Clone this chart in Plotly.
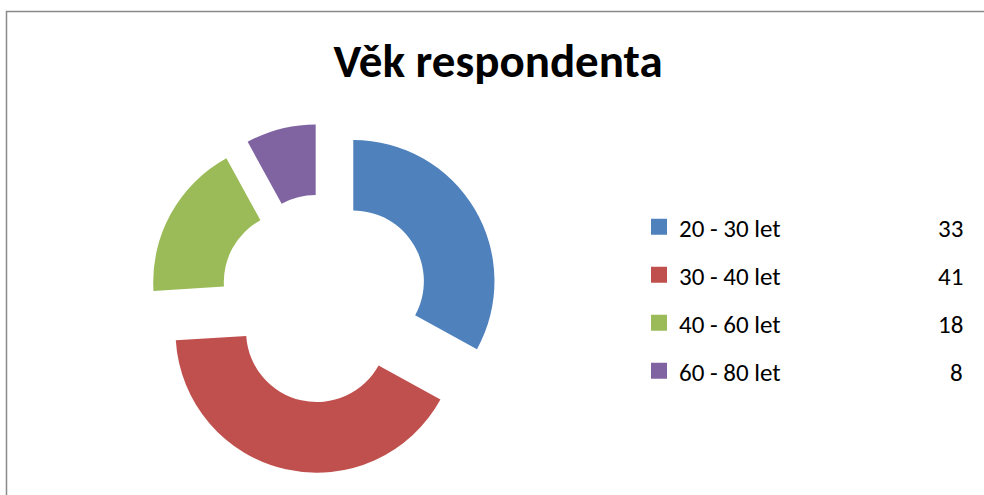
import plotly.graph_objects as go

title_text = "Věk respondenta"
categories = ["20 - 30 let", "30 - 40 let", "40 - 60 let", "60 - 80 let"]
values = [33, 41, 18, 8]
colors = ["#4F81BD", "#C0504D", "#9BBB59", "#8064A2"]

W, H = 984, 495
FONT = "Calibri, Carlito, Lato, sans-serif"
LEG_SIZE = 25

# pie geometry (pixels) -> paper domain
cx, cy, R, pull = 324.1, 298.4, 141.2, 0.24
half = R * (1 + pull)
dom_x = [(cx - half) / W, (cx + half) / W]
dom_y = [1 - (cy + half) / H, 1 - (cy - half) / H]

fig = go.Figure()
fig.add_trace(go.Pie(
    labels=categories, values=values, sort=False, direction="clockwise",
    rotation=0, hole=0.5, pull=[pull] * len(values),
    marker=dict(colors=colors, line=dict(width=0)),
    textinfo="none", hoverinfo="label+value", showlegend=False,
    domain=dict(x=dom_x, y=dom_y),
))

# legend entries (one per category, legend-only)
for i, (cat, col) in enumerate(zip(categories, colors)):
    fig.add_trace(go.Scatter(
        x=[None], y=[None], mode="markers", name=cat, legendgroup=f"g{i}",
        marker=dict(symbol="square", size=16, color=col, line=dict(width=0)),
        hoverinfo="skip",
    ))

legend_top_px = 204
item_step = 48.2
first_center_px = 228
annotations = []
for i, v in enumerate(values):
    annotations.append(dict(
        x=965 / W, y=1 - (first_center_px + i * item_step) / H, xref="paper", yref="paper",
        xanchor="right", yanchor="middle", text=str(v), showarrow=False,
        font=dict(family=FONT, size=LEG_SIZE, color="#000000"),
    ))

fig.update_layout(
    width=W, height=H,
    margin=dict(l=0, r=0, t=0, b=0),
    paper_bgcolor="white", plot_bgcolor="white",
    title=dict(text=f"<b>{title_text}</b>", x=498 / W, xanchor="center",
               y=1 - 61 / H, yanchor="middle", yref="container",
               font=dict(family=FONT, size=47, color="#000000")),
    xaxis=dict(visible=False), yaxis=dict(visible=False),
    showlegend=True,
    legend=dict(x=639 / W, xanchor="left", y=1 - legend_top_px / H, yanchor="top",
                traceorder="grouped", tracegroupgap=12.5, itemclick=False,
                font=dict(family=FONT, size=LEG_SIZE, color="#000000"),
                bgcolor="rgba(0,0,0,0)"),
    annotations=annotations,
    shapes=[dict(type="rect", xref="paper", yref="paper",
                 x0=6.5 / W, x1=1.6, y0=-0.6, y1=1 - 11.5 / H,
                 line=dict(color="#8A8A8A", width=1.5), fillcolor="rgba(0,0,0,0)")],
)

fig.write_html(
    "out.html",
    config={"displayModeBar": False},
    post_script="document.body.style.margin='0px';document.body.style.overflow='hidden';",
)
